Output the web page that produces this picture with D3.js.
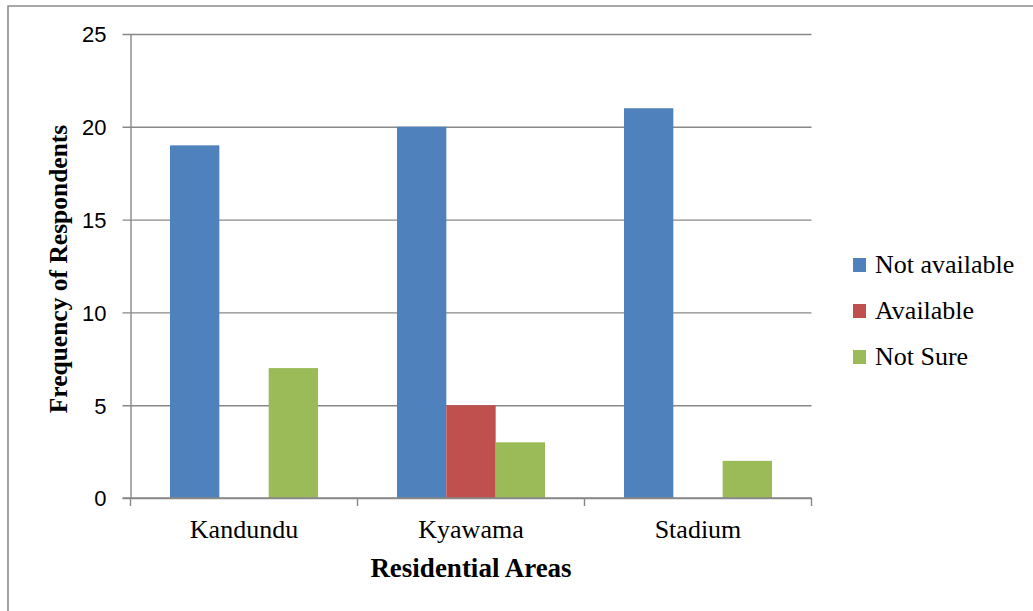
<!DOCTYPE html>
<html>
<head>
<meta charset="utf-8">
<script src="https://cdn.jsdelivr.net/npm/d3@7"></script>
<style>
  html, body { margin: 0; padding: 0; background: #fff; }
  svg { display: block; }
</style>
</head>
<body>
<svg id="chart" width="1033" height="611"></svg>
<script>
// Residential areas surveyed
const areas = ["Kandundu", "Kyawama", "Stadium"];
// Response categories (legend order)
const seriesNames = ["Not available", "Available", "Not Sure"];
const seriesColors = ["#4F81BD", "#C0504D", "#9BBB59"];
// Frequency of respondents per area, one array per response
const notAvailable = [19, 20, 21];
const available = [0, 5, 0];
const notSure = [7, 3, 2];
const yTicks = [0, 5, 10, 15, 20, 25];

const seriesValues = [notAvailable, available, notSure];

const svg = d3.select("#chart");
const W = 1033, H = 611;
const plot = { left: 130.5, right: 811.5, top: 34, bottom: 498 };
const gridColor = "#888888";
const serif = "'Liberation Serif', 'Times New Roman', serif";

// Outer frame (top and left edges visible)
svg.append("path")
  .attr("d", `M8,${H} L8,6 L${W},6`)
  .attr("fill", "none")
  .attr("stroke", "#8c8c8c")
  .attr("stroke-width", 1.6);

const x0 = d3.scaleBand().domain(areas).range([plot.left, plot.right]).padding(0);
const gap = x0.bandwidth() * 0.174;
const x1 = d3.scaleBand().domain(seriesNames).range([gap, x0.bandwidth() - gap]).padding(0);
const y = d3.scaleLinear().domain([0, 25]).range([plot.bottom, plot.top]);

// Horizontal gridlines with outside ticks
const yAxis = d3.axisLeft(y)
  .tickValues(yTicks)
  .tickSize(-(plot.right - plot.left))
  .tickSizeOuter(0)
  .tickPadding(24);
const gy = svg.append("g")
  .attr("transform", `translate(${plot.left},0)`)
  .call(yAxis);
gy.select(".domain").attr("stroke", gridColor).attr("stroke-width", 1.4);
gy.selectAll(".tick line")
  .attr("x1", -8)
  .attr("stroke", gridColor)
  .attr("stroke-width", 1.4);
gy.selectAll(".tick text")
  .attr("font-family", "'Liberation Sans', Arial, sans-serif")
  .attr("font-size", 22)
  .attr("fill", "#000")
  .attr("dy", "0.36em");

// Bars
const groups = svg.append("g").selectAll("g")
  .data(areas)
  .join("g")
  .attr("transform", d => `translate(${x0(d)},0)`);

groups.selectAll("rect")
  .data((area, i) => seriesNames.map((s, j) => ({ series: s, value: seriesValues[j][i], color: seriesColors[j] })))
  .join("rect")
  .attr("x", d => x1(d.series))
  .attr("width", x1.bandwidth())
  .attr("y", d => y(d.value))
  .attr("height", d => y(0) - y(d.value))
  .attr("fill", d => d.color);

// X axis with category boundary ticks
const gx = svg.append("g")
  .attr("transform", `translate(0,${plot.bottom})`);
gx.append("line")
  .attr("x1", plot.left - 8).attr("x2", plot.right)
  .attr("stroke", gridColor).attr("stroke-width", 1.4);
const boundaries = areas.map(a => x0(a)).concat([plot.right]);
gx.selectAll("line.bound")
  .data(boundaries)
  .join("line")
  .attr("class", "bound")
  .attr("x1", d => d).attr("x2", d => d)
  .attr("y1", 0).attr("y2", 8)
  .attr("stroke", gridColor).attr("stroke-width", 1.4);
gx.selectAll("text")
  .data(areas)
  .join("text")
  .attr("x", d => x0(d) + x0.bandwidth() / 2)
  .attr("y", 40)
  .attr("text-anchor", "middle")
  .attr("font-family", serif)
  .attr("font-size", 26)
  .attr("fill", "#000")
  .text(d => d);

// Axis titles
svg.append("text")
  .attr("x", (plot.left + plot.right) / 2)
  .attr("y", 577)
  .attr("text-anchor", "middle")
  .attr("font-family", serif)
  .attr("font-weight", "bold")
  .attr("font-size", 27)
  .attr("fill", "#000")
  .text("Residential Areas");

svg.append("text")
  .attr("transform", `translate(67,269) rotate(-90)`)
  .attr("text-anchor", "middle")
  .attr("font-family", serif)
  .attr("font-weight", "bold")
  .attr("font-size", 25.5)
  .attr("fill", "#000")
  .text("Frequency of Respondents");

// Legend
const legend = svg.append("g").attr("transform", "translate(853,258)");
const rows = legend.selectAll("g")
  .data(seriesNames)
  .join("g")
  .attr("transform", (d, i) => `translate(0,${i * 46})`);
rows.append("rect")
  .attr("width", 13).attr("height", 14)
  .attr("fill", (d, i) => seriesColors[i]);
rows.append("text")
  .attr("x", 22)
  .attr("y", 15)
  .attr("font-family", serif)
  .attr("font-size", 26)
  .attr("fill", "#000")
  .text(d => d);
</script>
</body>
</html>
